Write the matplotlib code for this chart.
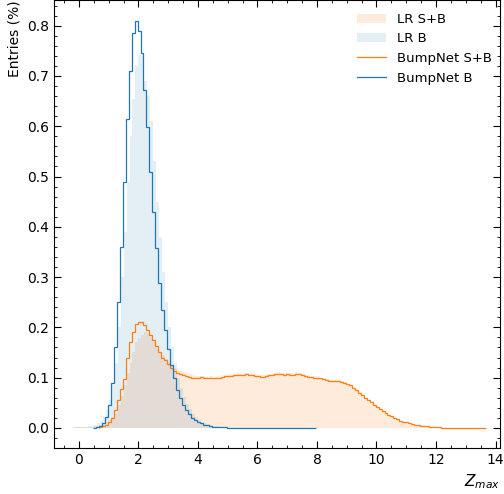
import numpy as np
import matplotlib
matplotlib.use('Agg')
import matplotlib.pyplot as plt
from matplotlib.ticker import MultipleLocator

# bin width used for all histograms
bw = 0.1

# LR S+B (filled), first bin starts at -0.2
lr_sb_start = -0.2
lr_sb = [0.001, 0.001, 0.001, 0.001, 0.001, 0.002, 0.002, 0.003, 0.004, 0.006,
         0.008, 0.011, 0.015, 0.022, 0.030, 0.045, 0.063, 0.085, 0.110, 0.130,
         0.152, 0.170, 0.178, 0.184, 0.190, 0.188, 0.180, 0.172, 0.163, 0.152,
         0.145, 0.138, 0.132, 0.126, 0.120, 0.116, 0.113, 0.111, 0.110, 0.108,
         0.106, 0.103, 0.103, 0.104, 0.102, 0.102, 0.103, 0.102, 0.103, 0.102,
         0.105, 0.106, 0.107, 0.107, 0.108, 0.109, 0.108, 0.109, 0.110, 0.109,
         0.108, 0.107, 0.106, 0.105, 0.105, 0.107, 0.108, 0.109, 0.111, 0.111,
         0.110, 0.109, 0.110, 0.109, 0.109, 0.111, 0.110, 0.108, 0.106, 0.104,
         0.104, 0.103, 0.103, 0.100, 0.099, 0.097, 0.096, 0.096, 0.096, 0.095,
         0.093, 0.091, 0.088, 0.083, 0.078, 0.073, 0.067, 0.062, 0.057, 0.052,
         0.047, 0.043, 0.039, 0.035, 0.031, 0.027, 0.024, 0.021, 0.018, 0.015,
         0.013, 0.011, 0.009, 0.008, 0.006, 0.005, 0.004, 0.003, 0.003, 0.002,
         0.002, 0.001, 0.001, 0.001]

# LR B (filled), first bin starts at -0.2
lr_b_start = -0.2
lr_b = [0.001, 0.001, 0.001, 0.002, 0.002, 0.003, 0.004, 0.006, 0.009, 0.014,
        0.022, 0.035, 0.055, 0.085, 0.130, 0.200, 0.300, 0.390, 0.490, 0.580,
        0.655, 0.720, 0.742, 0.740, 0.690, 0.660, 0.610, 0.530, 0.450, 0.380,
        0.310, 0.250, 0.200, 0.160, 0.130, 0.100, 0.080, 0.062, 0.048, 0.037,
        0.028, 0.021, 0.016, 0.012, 0.009, 0.007, 0.005, 0.004, 0.003, 0.002,
        0.001, 0.001]

# BumpNet S+B (line), first bin starts at 0.67
bn_sb_start = 0.67
bn_sb = [0.001, 0.003, 0.006, 0.011, 0.020, 0.035, 0.055, 0.078, 0.098, 0.140,
         0.170, 0.190, 0.207, 0.210, 0.210, 0.205, 0.195, 0.185, 0.175, 0.162,
         0.152, 0.140, 0.135, 0.128, 0.119, 0.114, 0.110, 0.107, 0.105, 0.104,
         0.101, 0.099, 0.100, 0.100, 0.101, 0.099, 0.099, 0.100, 0.099, 0.100,
         0.099, 0.102, 0.103, 0.104, 0.104, 0.105, 0.106, 0.105, 0.106, 0.107,
         0.106, 0.105, 0.104, 0.103, 0.102, 0.102, 0.104, 0.105, 0.106, 0.108,
         0.108, 0.107, 0.106, 0.107, 0.106, 0.106, 0.108, 0.107, 0.105, 0.103,
         0.101, 0.101, 0.100, 0.100, 0.100, 0.097, 0.096, 0.094, 0.093, 0.093,
         0.093, 0.092, 0.090, 0.088, 0.085, 0.080, 0.075, 0.070, 0.065, 0.060,
         0.056, 0.051, 0.046, 0.042, 0.038, 0.034, 0.030, 0.026, 0.023, 0.020,
         0.017, 0.014, 0.012, 0.011, 0.009, 0.007, 0.006, 0.005, 0.004, 0.003,
         0.003, 0.002, 0.002, 0.001, 0.001, 0.0, 0.0, 0.0, 0.0, 0.0,
         0.0, 0.0, 0.0, 0.0, 0.0, 0.0, 0.0, 0.0, 0.0, 0.0]

# BumpNet B (line), first bin starts at 0.47
bn_b_start = 0.47
bn_b = [0.000, 0.002, 0.004, 0.010, 0.022, 0.045, 0.090, 0.160, 0.250, 0.360,
        0.490, 0.615, 0.710, 0.785, 0.810, 0.790, 0.745, 0.672, 0.598, 0.509,
        0.430, 0.358, 0.289, 0.235, 0.195, 0.156, 0.125, 0.100, 0.075, 0.060,
        0.045, 0.035, 0.027, 0.020, 0.016, 0.012, 0.009, 0.006, 0.005, 0.003,
        0.002, 0.002, 0.001, 0.001, 0.001, 0.0, 0.0, 0.0, 0.0, 0.0,
        0.0, 0.0, 0.0, 0.0, 0.0, 0.0, 0.0, 0.0, 0.0, 0.0,
        0.0, 0.0, 0.0, 0.0, 0.0, 0.0, 0.0, 0.0, 0.0, 0.0,
        0.0, 0.0, 0.0, 0.0, 0.0]


def edges(start, vals):
    return start + bw * np.arange(len(vals) + 1)


plt.rcParams['font.size'] = 10

fig = plt.figure(figsize=(5.04, 4.94), dpi=100)
ax = fig.add_axes([0.107, 0.093, 0.885, 0.906])

ax.stairs(lr_sb, edges(lr_sb_start, lr_sb), fill=True, color='C1', alpha=0.15,
          label='LR S+B')
ax.stairs(lr_b, edges(lr_b_start, lr_b), fill=True, color='C0', alpha=0.12,
          label='LR B')
ax.stairs(bn_sb, edges(bn_sb_start, bn_sb), color='C1', lw=0.9,
          label='BumpNet S+B')
ax.stairs(bn_b, edges(bn_b_start, bn_b), color='C0', lw=0.9,
          label='BumpNet B')

ax.set_xlim(-0.84, 14.15)
ax.set_ylim(-0.04, 0.85)

ax.xaxis.set_major_locator(MultipleLocator(2))
ax.xaxis.set_minor_locator(MultipleLocator(0.5))
ax.yaxis.set_major_locator(MultipleLocator(0.1))
ax.yaxis.set_minor_locator(MultipleLocator(0.02))
ax.tick_params(which='both', direction='in', top=True, right=True)
ax.tick_params(which='major', length=5)
ax.tick_params(which='minor', length=2.5)

ax.set_xlabel(r'$Z_{max}$', loc='right', fontsize=11)
ax.set_ylabel('Entries (%)', loc='top')

ax.legend(loc='upper right', bbox_to_anchor=(1.0, 0.99), borderaxespad=0.2,
          frameon=False, fontsize=9.5, handlelength=2.2, handletextpad=0.8)

fig.savefig('out.png', dpi=100)
